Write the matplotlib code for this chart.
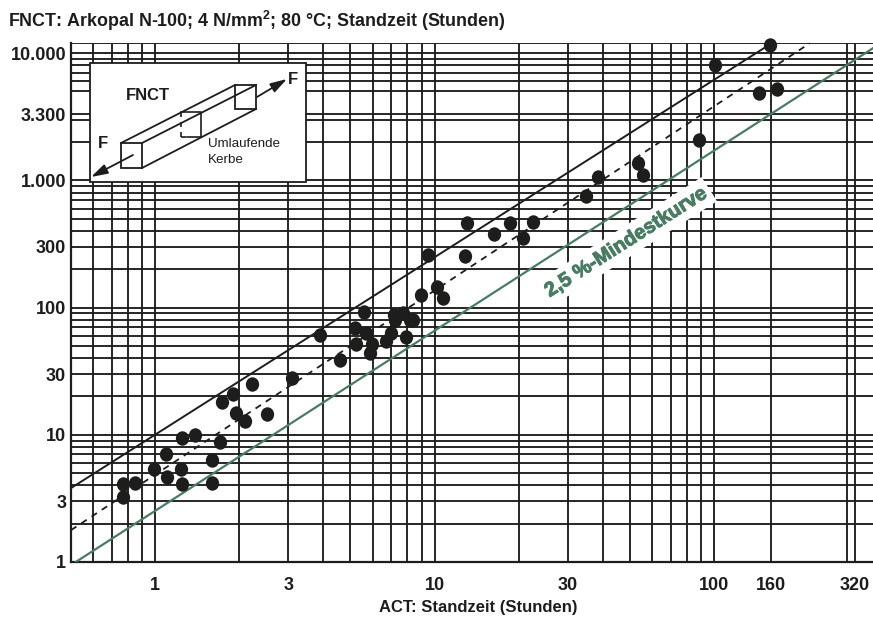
"""FNCT vs ACT lifetime, log-log with hand-drawn style grid and specimen sketch."""

import matplotlib
matplotlib.use("Agg")
import matplotlib.patheffects as pe
import matplotlib.pyplot as plt
from matplotlib.patches import Rectangle
from matplotlib.path import Path
from matplotlib.transforms import Affine2D

plt.rcParams["font.family"] = ["Liberation Sans", "DejaVu Sans"]
plt.rcParams["mathtext.fontset"] = "custom"
plt.rcParams["mathtext.bf"] = "Liberation Sans:bold"

INK = "#1d1d1b"
GREEN = "#4a7c63"

# measured points (ACT hours, FNCT hours)
act = [0.77, 0.77, 0.846, 0.992, 1.09, 1.10, 1.24, 1.25, 1.25, 1.39, 1.60, 1.60,
       1.70, 1.74, 1.90, 1.94, 2.10, 2.22, 2.52, 3.09, 3.89, 4.60, 5.19, 5.24,
       5.59, 5.69, 5.86, 5.99, 6.71, 6.99, 7.14, 7.22, 7.69, 7.89, 8.17, 8.36,
       8.92, 9.48, 10.2, 10.7, 12.8, 13.1, 16.3, 18.6, 20.8, 22.5, 34.8, 38.5,
       53.3, 55.6, 88.4, 101, 145, 158, 168]
fnct = [4.07, 3.24, 4.17, 5.38, 7.09, 4.65, 5.38, 9.42, 4.10, 9.95, 6.29, 4.17,
        8.72, 18.2, 20.9, 14.8, 12.9, 25.0, 14.5, 27.9, 61.1, 38.6, 69.2, 51.9,
        91.5, 62.6, 43.8, 51.3, 54.5, 62.6, 87.1, 79.6, 90.9, 58.9, 79.6, 79.6,
        126, 259, 145, 118, 253, 463, 379, 463, 353, 466, 750, 1071,
        1380, 1100, 2065, 8020, 4895, 11660, 5196]

# fitted curves, end points only
upper_x = [0.5, 158]
upper_y = [3.81, 11660]
mean_x = [0.5, 220]
mean_y = [1.78, 11940]
minimum_x = [0.52, 370]
minimum_y = [1.0, 10900]

x_grid = [0.5, 0.6, 0.7, 0.8, 0.9, 1, 2, 3, 4, 5, 6, 7, 8, 9, 10,
          20, 30, 40, 50, 60, 70, 80, 90, 100, 160, 300, 320]
y_grid = [1, 2, 3, 4, 5, 6, 7, 8, 9, 10, 20, 30, 40, 50, 60, 70, 80, 90, 100,
          200, 300, 400, 500, 600, 700, 800, 900, 1000, 2000, 3000, 3300,
          5000, 6000, 7000, 8000, 9000, 10000, 12000]
x_ticks = [1, 3, 10, 30, 100, 160, 320]
x_tick_labels = ["1", "3", "10", "30", "100", "160", "320"]
y_ticks = [1, 3, 10, 30, 100, 300, 1000, 3300, 10000]
y_tick_labels = ["1", "3", "10", "30", "100", "300", "1.000", "3.300", "10.000"]

W, H = 873, 617
fig = plt.figure(figsize=(W / 100, H / 100), dpi=100)
ax = fig.add_axes([71 / W, 1 - 562 / H, (W - 71) / W, (562 - 43) / H])
ax.set_xscale("log")
ax.set_yscale("log")
ax.set_xlim(0.5, 370.6)
ax.set_ylim(1, 12000)

for v in y_grid:
    ax.axhline(v, color=INK, lw=1.35, zorder=1)
for v in x_grid:
    ax.axvline(v, color=INK, lw=1.35, zorder=1)

ax.plot(upper_x, upper_y, color=INK, lw=1.4, zorder=3, clip_on=False)
ax.plot(mean_x, mean_y, color=INK, lw=1.3, ls=(0, (3.6, 3.2)), zorder=3, clip_on=False)
ax.plot(minimum_x, minimum_y, color=GREEN, lw=1.6, zorder=3)

# dots in the source are slightly taller than wide
dot = Path.unit_circle().transformed(Affine2D().scale(0.92, 1.0))
ax.plot(act, fnct, ls="none", marker=dot, ms=10.4, color=INK, mew=0, zorder=4, clip_on=False)

label = ax.annotate("2,5 %-Mindestkurve", xy=(48.4, 326), rotation=32.5, rotation_mode="anchor",
                    ha="center", va="center", color=GREEN, fontsize=14.5, fontweight="bold", zorder=5,
                    bbox=dict(fc="white", ec="none", pad=3.5))
label.set_path_effects([pe.withStroke(linewidth=0.7, foreground=GREEN)])

ax.minorticks_off()
ax.set_xticks(x_ticks, x_tick_labels)
ax.set_yticks(y_ticks, y_tick_labels)
ax.tick_params(axis="both", length=0, labelsize=13, labelcolor=INK)
ax.tick_params(axis="x", pad=11)
ax.tick_params(axis="y", pad=3.5)
for lab in ax.get_xticklabels() + ax.get_yticklabels():
    lab.set_fontweight("bold")
ax.set_xlabel("ACT: Standzeit (Stunden)", fontsize=12, fontweight="bold", color=INK)
ax.xaxis.set_label_coords((478 - 71) / (W - 71), -(600 - 562) / (562 - 43))
for side in ["top", "right"]:
    ax.spines[side].set_visible(False)
for side in ["left", "bottom"]:
    ax.spines[side].set_linewidth(1.6)
    ax.spines[side].set_color(INK)

fig.text(8 / W, 1 - 21 / H, r"FNCT: Arkopal N-100; 4 N/mm$^{\mathbf{2}}$; 80 °C; Standzeit (Stunden)",
         fontsize=12.9, fontweight="bold", color=INK, va="center")

# specimen sketch, drawn in an overlay using pixel coordinates
sk = fig.add_axes([0, 0, 1, 1], zorder=6)
sk.set_xlim(0, W)
sk.set_ylim(H, 0)
sk.axis("off")
sk.add_patch(Rectangle((89.5, 62.5), 216, 119, fc="white", ec=INK, lw=1.3))

front = (121, 143, 21, 25)
back = (235, 85, 21, 24)
for x0, y0, w, h in [front, back]:
    sk.add_patch(Rectangle((x0, y0), w, h, fc="none", ec=INK, lw=1.3))
edges = [((121, 143), (235, 85)), ((142, 143), (256, 85)), ((142, 168), (256, 109))]
for a, b in edges:
    sk.plot([a[0], b[0]], [a[1], b[1]], color=INK, lw=1.3)
sk.plot([181, 201, 201, 187], [112, 112, 137, 137], color=INK, lw=1.2)
sk.plot([181, 181], [112, 137], color=INK, lw=1.2, ls=(0, (3, 3)))
sk.plot([181, 187], [137, 137], color=INK, lw=1.2, ls=(0, (3, 3)))

arrow = dict(arrowstyle="-|>,head_length=1.0,head_width=0.3", color=INK, lw=1.3, shrinkA=0, shrinkB=0)
sk.annotate("", xy=(287, 79), xytext=(257, 97), arrowprops=arrow)
sk.annotate("", xy=(91, 177), xytext=(133, 155), arrowprops=arrow)

sk.text(148, 96, "FNCT", fontsize=12, fontweight="bold", color=INK, ha="center", va="center")
sk.text(293, 80, "F", fontsize=12, fontweight="bold", color=INK, ha="center", va="center")
sk.text(103, 144, "F", fontsize=12, fontweight="bold", color=INK, ha="center", va="center")
sk.text(208, 144, "Umlaufende", fontsize=9.6, color=INK, va="center")
sk.text(208, 160, "Kerbe", fontsize=9.6, color=INK, va="center")

fig.savefig("out.png", dpi=100)
